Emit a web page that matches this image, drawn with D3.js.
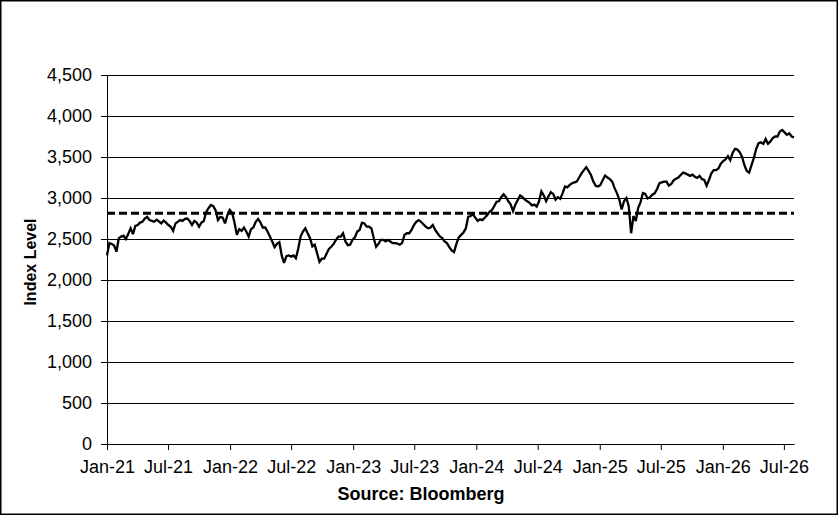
<!DOCTYPE html>
<html>
<head>
<meta charset="utf-8">
<script src="https://cdn.jsdelivr.net/npm/d3@7"></script>
<style>
  html, body { margin: 0; padding: 0; background: #fff; }
  svg { display: block; }
  text { font-family: "Liberation Sans", Arial, sans-serif; fill: #000; }
</style>
</head>
<body>
<svg id="chart" width="838" height="515"></svg>
<script>
// ---- data (weekly readings, starting 1 Jan 2021) ----
const startDate = "2021-01-01";
const indexValues = [
  2300, 2450, 2440, 2420, 2345, 2510, 2530, 2540, 2500, 2560,
  2630, 2560, 2660, 2670, 2700, 2710, 2750, 2770, 2730, 2720,
  2710, 2735, 2715, 2690, 2725, 2700, 2670, 2650, 2600, 2690,
  2710, 2730, 2720, 2745, 2750, 2720, 2670, 2720, 2700, 2650,
  2700, 2720, 2830, 2875, 2915, 2900, 2850, 2730, 2770, 2760,
  2690, 2790, 2855, 2820, 2700, 2550, 2620, 2600, 2640, 2590,
  2530, 2620, 2640, 2710, 2745, 2700, 2640, 2640, 2590, 2530,
  2470, 2400, 2440, 2460, 2300, 2210, 2290, 2300, 2285, 2300,
  2265, 2380, 2530, 2590, 2630, 2570, 2510, 2410, 2430, 2325,
  2220, 2260, 2260, 2320, 2380, 2405, 2440, 2490, 2530, 2530,
  2570, 2470, 2425, 2430, 2490, 2520, 2590, 2610, 2700, 2690,
  2650, 2650, 2630, 2510, 2405, 2440, 2490, 2490, 2470, 2490,
  2470, 2450, 2450, 2445, 2430, 2450, 2550, 2570, 2570, 2610,
  2670, 2710, 2730, 2710, 2680, 2650, 2630, 2640, 2670, 2610,
  2570, 2530, 2510, 2470, 2450, 2400, 2360, 2340, 2440, 2520,
  2550, 2580, 2630, 2770, 2780, 2800, 2760, 2720, 2740, 2730,
  2760, 2790, 2830, 2850, 2900, 2955, 2960, 3010, 3045, 3010,
  2960, 2920, 2840, 2920, 2975, 3030, 3010, 2980, 2960, 2940,
  2910, 2920, 2895, 2960, 3080, 3030, 2960, 3020, 3070, 3050,
  2980, 3010, 2990, 3060, 3140, 3130, 3160, 3180, 3190, 3200,
  3250, 3300, 3340, 3375, 3330, 3280, 3200, 3150, 3140, 3160,
  3220, 3275, 3250, 3230, 3200, 3120, 3060, 2980, 2860, 2960,
  3000, 2900, 2570, 2780, 2720, 2880, 2950, 3060, 3050, 2995,
  3010, 3040, 3060, 3110, 3180, 3190, 3200, 3200, 3150, 3170,
  3215, 3235, 3250, 3280, 3310, 3300, 3285, 3270, 3285, 3260,
  3245, 3270, 3230, 3220, 3150, 3220, 3300, 3340, 3340, 3360,
  3420, 3450, 3470, 3510, 3460, 3550, 3600, 3590, 3560, 3500,
  3400, 3330, 3310, 3400, 3490, 3600, 3670, 3680, 3660, 3720,
  3660, 3690, 3730, 3750, 3750, 3810, 3830, 3800, 3770, 3790,
  3750, 3740
];
const referenceLevel = 2815;
const yTicks = [0, 500, 1000, 1500, 2000, 2500, 3000, 3500, 4000, 4500];
const xTickLabels = ["Jan-21", "Jul-21", "Jan-22", "Jul-22", "Jan-23", "Jul-23",
                     "Jan-24", "Jul-24", "Jan-25", "Jul-25", "Jan-26", "Jul-26"];
const yAxisTitle = "Index Level";
const sourceText = "Source: Bloomberg";

// ---- build ----
const parseDay = d3.timeParse("%Y-%m-%d");
const parseTick = d3.timeParse("%b-%y");
const t0 = parseDay(startDate);
const series = indexValues.map((v, i) => ({ date: d3.timeDay.offset(t0, i * 7), value: v }));
const tickDates = xTickLabels.map(s => parseTick(s));

const svg = d3.select("#chart");
const W = 838, H = 515;
const plot = { left: 107, right: 794, top: 75, bottom: 444 };

// outer border
svg.append("rect")
  .attr("x", 0.75).attr("y", 0.75)
  .attr("width", W - 1.5).attr("height", H - 1.5)
  .attr("fill", "#fff").attr("stroke", "#000").attr("stroke-width", 1.5);

const x = d3.scaleTime()
  .domain([t0, series[series.length - 1].date])
  .range([plot.left, plot.right]);
const y = d3.scaleLinear()
  .domain([0, 4500])
  .range([plot.bottom, plot.top]);

// gridlines
svg.append("g")
  .selectAll("line")
  .data(yTicks.filter(d => d > 0))
  .join("line")
  .attr("x1", plot.left).attr("x2", plot.right)
  .attr("y1", d => Math.round(y(d)) + 0.5).attr("y2", d => Math.round(y(d)) + 0.5)
  .attr("stroke", "#000").attr("stroke-width", 1);

// y axis
const yAxis = svg.append("g")
  .attr("transform", `translate(${plot.left},0)`)
  .call(d3.axisLeft(y).tickValues(yTicks).tickFormat(d3.format(",")).tickSize(6).tickPadding(9).tickSizeOuter(0));
yAxis.selectAll("text").attr("font-size", 18).attr("font-family", "'Liberation Sans', Arial, sans-serif");
yAxis.selectAll("line, path").attr("stroke", "#000").attr("stroke-width", 1);

// x axis
const xAxis = svg.append("g")
  .attr("transform", `translate(0,${plot.bottom})`)
  .call(d3.axisBottom(x).tickValues(tickDates).tickFormat(d3.timeFormat("%b-%y")).tickSize(6).tickPadding(10).tickSizeOuter(0));
xAxis.selectAll("text").attr("font-size", 18).attr("font-family", "'Liberation Sans', Arial, sans-serif");
xAxis.selectAll("line, path").attr("stroke", "#000").attr("stroke-width", 1);

// dashed reference line
svg.append("line")
  .attr("x1", plot.left).attr("x2", plot.right)
  .attr("y1", y(referenceLevel)).attr("y2", y(referenceLevel))
  .attr("stroke", "#000").attr("stroke-width", 3)
  .attr("stroke-dasharray", "8,4");

// index line
svg.append("path")
  .datum(series)
  .attr("fill", "none")
  .attr("stroke", "#000")
  .attr("stroke-width", 2.3)
  .attr("stroke-linejoin", "miter")
  .attr("stroke-miterlimit", 3)
  .attr("d", d3.line().x(d => x(d.date)).y(d => y(d.value)));

// axis title
svg.append("text")
  .attr("transform", "translate(36,262) rotate(-90)")
  .attr("text-anchor", "middle")
  .attr("font-size", 16).attr("font-weight", "bold")
  .text(yAxisTitle);

// source
svg.append("text")
  .attr("x", 421).attr("y", 500)
  .attr("text-anchor", "middle")
  .attr("font-size", 18).attr("font-weight", "bold")
  .text(sourceText);
</script>
</body>
</html>
